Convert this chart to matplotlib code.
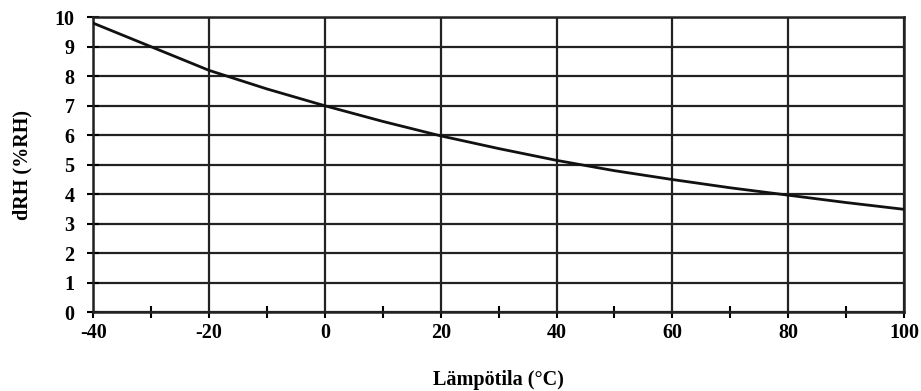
import matplotlib
matplotlib.use("Agg")
from matplotlib import pyplot as plt
from matplotlib.ticker import MultipleLocator

# values
temperature = [-40, -30, -20, -10, 0, 10, 20, 30, 40, 50, 60, 70, 80, 90, 100]
drh = [9.8, 9.0, 8.2, 7.57, 7.0, 6.47, 5.98, 5.55, 5.15, 4.8, 4.5, 4.22, 3.97, 3.72, 3.49]

x_ticks = [-40, -20, 0, 20, 40, 60, 80, 100]
y_ticks = list(range(0, 11))

plt.rcParams['font.family'] = ['Liberation Serif', 'DejaVu Serif']
plt.rcParams['font.weight'] = 'bold'
plt.rcParams['axes.unicode_minus'] = False

fig = plt.figure(figsize=(9.21, 3.91), dpi=100)
ax = fig.add_axes([0.1013, 0.2013, 0.8803, 0.7545])

ax.plot(temperature, drh, color='#111111', linewidth=2.0, zorder=3)

ax.set_xlim(-40, 100)
ax.set_ylim(0, 10)
ax.set_xticks(x_ticks)
ax.set_yticks(y_ticks)
ax.xaxis.set_minor_locator(MultipleLocator(10))
ax.grid(True, which='major', color='#222222', linewidth=1.6)

ax.tick_params(axis='x', which='major', direction='out', length=4, width=1.5, pad=4, labelsize=14.5)
ax.tick_params(axis='x', which='minor', direction='inout', length=9, width=1.5)
ax.tick_params(axis='y', which='major', direction='inout', length=9, width=1.5, pad=9, labelsize=14.5)
for lab in ax.get_xticklabels() + ax.get_yticklabels():
	lab.set_fontweight('bold')

for side in ax.spines.values():
	side.set_linewidth(1.8)
	side.set_color('#222222')

ax.set_xlabel('Lämpötila (°C)', fontsize=14.5, fontweight='bold', labelpad=19)
ax.set_ylabel('dRH (%RH)', fontsize=14.5, fontweight='bold', labelpad=16)

fig.savefig('out.png', dpi=100)
